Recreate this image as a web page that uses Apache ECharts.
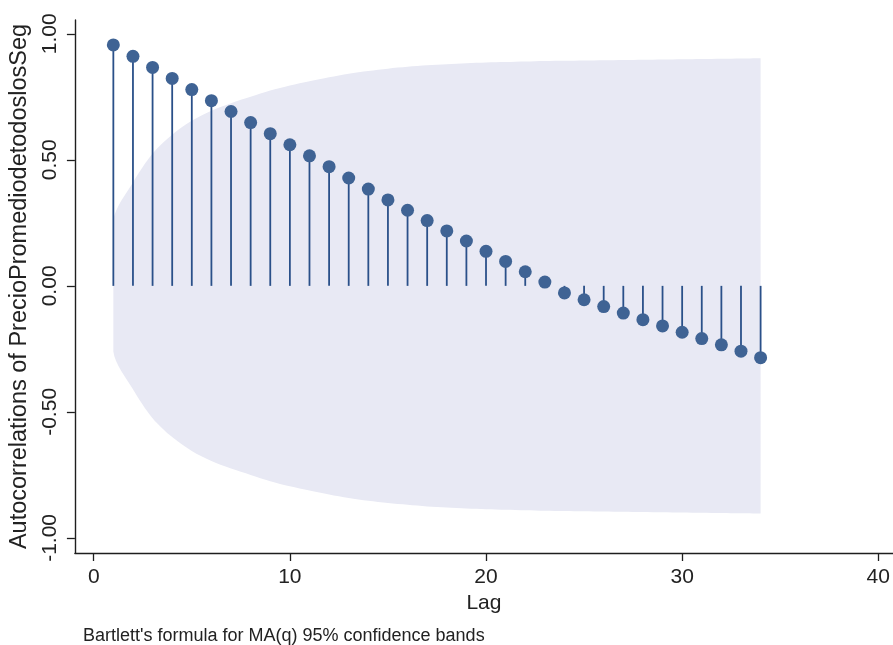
<!DOCTYPE html>
<html>
<head>
<meta charset="utf-8">
<script src="https://cdn.jsdelivr.net/npm/echarts@6/dist/echarts.min.js"></script>
<style>
html,body{margin:0;padding:0;background:#fff;}
#chart{width:893px;height:645px;}
</style>
</head>
<body>
<div id="chart"></div>
<script>
// ---- data ----
var lags = [1,2,3,4,5,6,7,8,9,10,11,12,13,14,15,16,17,18,19,20,21,22,23,24,25,26,27,28,29,30,31,32,33,34];
var acf = [0.956,0.911,0.867,0.823,0.779,0.735,0.692,0.648,0.604,0.560,0.516,0.473,0.428,0.384,0.341,0.300,0.259,0.218,0.178,0.137,0.097,0.056,0.015,-0.028,-0.055,-0.082,-0.108,-0.134,-0.159,-0.184,-0.209,-0.234,-0.259,-0.285];
var bandUpper = [0.26,0.41,0.525,0.60,0.655,0.695,0.725,0.75,0.775,0.795,0.812,0.828,0.842,0.853,0.862,0.869,0.875,0.879,0.883,0.886,0.888,0.890,0.892,0.893,0.894,0.895,0.896,0.897,0.898,0.899,0.900,0.901,0.902,0.903];
var bandLower = [-0.26,-0.41,-0.525,-0.60,-0.655,-0.695,-0.725,-0.75,-0.775,-0.795,-0.812,-0.828,-0.842,-0.853,-0.862,-0.869,-0.875,-0.879,-0.883,-0.886,-0.888,-0.890,-0.892,-0.893,-0.894,-0.895,-0.896,-0.897,-0.898,-0.899,-0.900,-0.901,-0.902,-0.903];
var xTicks = [0,10,20,30,40];
var yTicks = [-1,-0.5,0,0.5,1];
var yTitle = 'Autocorrelations of PrecioPromediodetodoslosSeg';
var xTitle = 'Lag';
var note = "Bartlett's formula for MA(q) 95% confidence bands";

var FONT = '"Liberation Sans", Arial, Helvetica, sans-serif';
var TXT = '#222222';
var AX = '#1e1e1e';

var chart = echarts.init(document.getElementById('chart'), null, {renderer:'canvas'});

var bandData = lags.map(function(l,i){ return [l, bandLower[i], bandUpper[i]]; });
var stemData = lags.map(function(l,i){ return [l, acf[i]]; });

var option = {
  animation: false,
  backgroundColor: '#ffffff',
  title: {
    text: note,
    left: 78, top: 622,
    textStyle: {fontFamily: FONT, fontSize: 18, fontWeight: 'normal', color: TXT}
  },
  grid: {left: 72, right: 0, top: 20, bottom: 92, containLabel: false},
  xAxis: {
    type: 'value', min: -0.96, max: 40.75,
    name: xTitle, nameLocation: 'middle', nameGap: 38,
    nameTextStyle: {fontFamily: FONT, fontSize: 21, color: TXT},
    axisLine: {show: true, onZero: false, lineStyle: {color: AX, width: 1.4}},
    axisTick: {show: true, length: 8, customValues: xTicks, lineStyle: {color: AX, width: 1.3}},
    axisLabel: {customValues: xTicks, fontFamily: FONT, fontSize: 21, color: TXT, margin: 14},
    splitLine: {show: false}
  },
  yAxis: {
    type: 'value', min: -1.06, max: 1.055,
    name: yTitle, nameLocation: 'middle', nameGap: 33, nameRotate: 90,
    nameTextStyle: {fontFamily: FONT, fontSize: 23.5, color: TXT},
    axisLine: {show: true, onZero: false, lineStyle: {color: AX, width: 1.4}},
    axisTick: {show: true, length: 8, customValues: yTicks, lineStyle: {color: AX, width: 1.3}},
    axisLabel: {customValues: yTicks, rotate: 90, fontFamily: FONT, fontSize: 21, color: TXT, margin: 14,
      formatter: function(v){ return v.toFixed(2); }},
    splitLine: {show: false}
  },
  series: [
    {
      type: 'custom',
      name: 'band',
      data: bandData,
      z: 1,
      silent: true,
      renderItem: function(params, api){
        if (params.dataIndex !== 0) return null;
        var pts = [];
        for (var i = 0; i < bandData.length; i++) pts.push(api.coord([bandData[i][0], bandData[i][2]]));
        for (var j = bandData.length - 1; j >= 0; j--) pts.push(api.coord([bandData[j][0], bandData[j][1]]));
        var minX = Infinity, minY = Infinity, maxX = -Infinity, maxY = -Infinity;
        pts.forEach(function(p){
          if (p[0] < minX) minX = p[0]; if (p[0] > maxX) maxX = p[0];
          if (p[1] < minY) minY = p[1]; if (p[1] > maxY) maxY = p[1];
        });
        return {
          type: 'polygon',
          shape: {points: pts, smooth: 0.3, smoothConstraint: [[minX, minY], [maxX, maxY]]},
          style: {fill: '#e8e9f4', stroke: null}
        };
      },
      clip: true
    },
    {
      type: 'custom',
      name: 'stems',
      data: stemData,
      z: 3,
      renderItem: function(params, api){
        var p0 = api.coord([api.value(0), 0]);
        var p1 = api.coord([api.value(0), api.value(1)]);
        return {
          type: 'line',
          shape: {x1: p0[0], y1: p0[1], x2: p1[0], y2: p1[1]},
          style: {stroke: '#2a5089', lineWidth: 1.8}
        };
      }
    },
    {
      type: 'scatter',
      name: 'acf',
      data: stemData,
      z: 4,
      symbol: 'circle',
      symbolSize: 13,
      itemStyle: {color: '#3f6394', opacity: 1}
    }
  ]
};
chart.setOption(option);
</script>
</body>
</html>
